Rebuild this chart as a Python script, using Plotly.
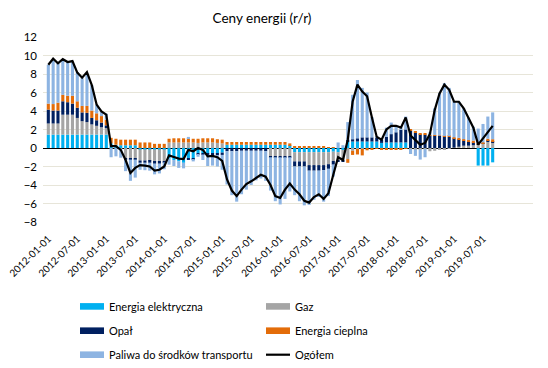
import plotly.graph_objects as go

# ---------------- data ----------------
months = [f"{y}-{m:02d}-01" for y in range(2012, 2020) for m in range(1, 13)][:93]

energia_elektryczna = [1.45, 1.45, 1.45, 1.45, 1.45, 1.45, 1.45, 1.45, 1.45, 1.45, 1.45, 1.45, 1.45,
    0.5, 0.35, 0.3, 0.3, 0.3, 0.3, -0.15, -0.15, -0.15, -0.15, -0.15, -0.15,
    -1.15, -1.3, -1.45, -1.6, -1.15, -1.15, -0.55, -0.55, -0.6, -0.6, -0.6, -0.5,
    0.35, 0.35, 0.35, 0.35, 0.35, 0.35, 0.35, 0.35, 0.35, 0.35, 0.35, 0.35, 0.35, 0.3,
    -0.45, -0.45, -0.45, -0.45, -0.45, -0.45, -0.45, -0.45, -0.4, -0.45, -0.2,
    0.65, 0.7, 0.7, 0.7, 0.7, 0.7, 0.7, 0.55, 0.6, 0.6, 0.6, 0.6, 0.6,
    0.0, 0.0, 0.0, 0.0, 0.0, 0.0, 0.0, 0.0, 0.0, 0.0, 0.0, 0.0, 0.0, 0.0,
    -1.9, -1.9, -1.9, -1.55]
gaz = [1.2, 1.2, 1.2, 2.15, 2.15, 2.15, 1.8, 1.45, 1.35, 1.1, 0.95, 0.8, 0.7,
    0.0, 0.0, -0.1, -1.15, -1.15, -1.15, -1.2, -1.2, -1.25, -1.35, -1.35, -1.3,
    0.6, 0.6, 0.6, 0.6, 0.6, 0.6, 0.55, 0.6, 0.6, 0.6, 0.55, 0.5,
    0.0, 0.0, 0.0, 0.0, 0.0, 0.0, 0.0, 0.0, 0.0, -0.9, -0.9, -0.9, -0.9, -0.9,
    -1.0, -1.0, -1.0, -1.4, -1.4, -1.4, -1.4, -1.3, -1.0, -0.85, -1.15,
    -1.2, -0.3, -0.1, -0.1, 0.0, 0.0, 0.0, -0.1, -0.1, -0.1, -0.1, -0.05, -0.05,
    -0.1, -0.15, -0.15, -0.1, -0.35, -0.3, -0.2, -0.15, -0.1, 0.05, 0.15, 0.25, 0.25, 0.3,
    0.35, 0.45, 0.65, 0.55]
opal = [1.5, 1.4, 1.4, 1.45, 1.35, 1.2, 1.1, 0.95, 1.0, 0.7, 0.6, 0.5, 0.3,
    0.0, 0.0, 0.0, -0.1, -0.1, -0.1, -0.25, -0.25, -0.2, -0.2, -0.2, -0.1,
    0.0, 0.0, 0.0, 0.0, -0.1, -0.1, -0.1, -0.15, -0.15, -0.2, -0.2, -0.25,
    -0.35, -0.35, -0.35, -0.3, -0.3, -0.3, -0.3, -0.3, -0.35, -0.1, -0.1, -0.1, -0.1, -0.1,
    -0.55, -0.55, -0.55, -0.6, -0.6, -0.6, -0.55, -0.5, -0.4, -0.2, -0.1,
    0.25, 0.25, 0.35, 0.45, 0.45, 0.45, 0.45, 0.35, 0.6, 0.9, 1.1, 1.35, 1.4,
    1.9, 1.65, 1.5, 1.45, 1.35, 1.35, 1.3, 1.25, 1.2, 1.0, 0.8, 0.55, 0.4, 0.3,
    0.05, 0.05, 0.15, 0.1]
energia_cieplna = [0.65, 0.7, 0.85, 0.7, 0.7, 0.85, 0.7, 0.7, 0.75, 0.8, 0.75, 0.7, 0.6,
    0.6, 0.65, 0.6, 0.6, 0.6, 0.6, 0.6, 0.6, 0.6, 0.45, 0.45, 0.45,
    0.4, 0.45, 0.45, 0.45, 0.45, 0.4, 0.45, 0.45, 0.45, 0.45, 0.4, 0.4,
    0.3, 0.3, 0.3, 0.3, 0.3, 0.3, 0.3, 0.3, 0.3, 0.3, 0.3, 0.3, 0.3, 0.2,
    0.15, 0.15, 0.15, 0.15, 0.15, 0.15, 0.15, 0.1, 0.1, 0.0, 0.0,
    -0.4, -0.45, -0.6, -0.7, -0.25, -0.15, -0.1, -0.1, -0.1, -0.1, -0.1, -0.1, -0.05,
    0.1, 0.1, 0.1, 0.1, 0.05, 0.05, 0.05, 0.05, 0.1, 0.1, 0.15, 0.15, 0.2, 0.2,
    0.1, 0.1, 0.2, 0.3]
paliwa = [4.2, 4.75, 4.3, 3.7, 3.7, 3.7, 3.15, 3.0, 3.5, 2.75, 0.95, 0.5, 0.65,
    -1.0, -0.9, -0.95, -1.25, -2.3, -1.95, -0.75, -0.8, -0.85, -1.15, -1.05, -0.75,
    -0.65, -0.65, -0.7, -0.6, 0.15, -0.2, -0.3, -0.6, -1.2, -1.1, -1.2, -1.6,
    -3.6, -4.75, -5.45, -4.7, -4.2, -3.7, -3.2, -3.0, -3.2, -3.6, -4.75, -5.1, -4.5, -3.7,
    -3.1, -3.75, -4.2, -3.7, -3.15, -2.85, -3.4, -2.95, -1.3, 0.6, 0.3,
    1.9, 4.8, 6.3, 5.35, 4.85, 2.2, 0.1, 0.1, 1.0, 1.25, 0.7, 0.4, 1.4,
    -0.55, -0.7, -1.1, -0.9, 0.3, 2.9, 4.6, 5.7, 5.2, 3.9, 3.9, 3.35, 2.45, 1.5,
    1.6, 2.0, 2.4, 2.9]
ogolem = [9.0, 9.65, 9.15, 9.6, 9.3, 9.4, 8.15, 7.6, 8.2, 6.8, 4.7, 3.95, 3.6,
    0.2, 0.2, -0.2, -1.3, -2.7, -2.15, -1.85, -1.9, -2.0, -2.45, -2.35, -2.0,
    -0.8, -0.97, -1.15, -1.2, -0.2, -0.35, 0.0, -0.2, -0.9, -0.85, -1.0, -1.4,
    -3.4, -4.6, -5.2, -4.5, -3.9, -3.6, -3.25, -2.9, -3.1, -4.0, -5.2, -5.4, -4.5, -3.85,
    -4.5, -5.0, -5.7, -5.9, -5.3, -5.0, -5.5, -4.9, -2.9, -1.0, -1.3,
    0.9, 5.0, 6.85, 6.1, 5.6, 3.3, 1.2, 0.9, 2.0, 2.4, 2.4, 2.2, 3.3,
    1.35, 0.9, 0.36, 0.55, 1.5, 4.1, 5.9, 6.85, 6.3, 5.0, 5.0, 4.3, 3.3, 2.2,
    0.36, 1.0, 1.7, 2.4]

tick_labels = ["2012-01-01", "2012-07-01", "2013-01-01", "2013-07-01", "2014-01-01",
               "2014-07-01", "2015-01-01", "2015-07-01", "2016-01-01", "2016-07-01",
               "2017-01-01", "2017-07-01", "2018-01-01", "2018-07-01", "2019-01-01",
               "2019-07-01"]

series = [
    ("Energia elektryczna", energia_elektryczna, "#00B0F0"),
    ("Gaz", gaz, "#A5A5A5"),
    ("Opał", opal, "#002060"),
    ("Energia cieplna", energia_cieplna, "#E36C09"),
    ("Paliwa do środków transportu", paliwa, "#8DB4E2"),
]

FONT = "Lato, 'Open Sans', sans-serif"

fig = go.Figure()
for name, vals, col in series:
    fig.add_trace(go.Bar(x=months, y=vals, name=name, marker=dict(color=col, line=dict(width=0)),
                         showlegend=False))
fig.add_trace(go.Scatter(x=months, y=ogolem, name="Ogółem", mode="lines",
                         line=dict(color="black", width=2.2), showlegend=False))

# ---------------- layout ----------------
# the page body adds an 8px margin, so the figure is laid out in page coordinates minus 8
OFF = 8
W, H = 548 - 2 * OFF, 368 - 2 * OFF
L, R, T, B = 43 - OFF, 533 - OFF, 37.3 - OFF, 222.3 - OFF
pw, ph = R - L, B - T

def px_x(x):
    return (x - OFF - L) / pw

def px_y(y):
    return (B - (y - OFF)) / ph

fig.update_layout(
    width=W, height=H,
    margin=dict(l=L, r=W - R, t=T, b=H - B, autoexpand=False),
    paper_bgcolor="white", plot_bgcolor="white",
    barmode="relative", bargap=0.36,
    font=dict(family=FONT, size=11, color="#000000"),
    title=dict(text="Ceny energii (r/r)", x=(262 - OFF) / W, xanchor="center",
               y=1 - 10 / H, yanchor="middle", pad=dict(t=0, b=0),
               font=dict(family=FONT, size=13.5, color="#000000")),
    xaxis=dict(type="category", range=[-1.1, 100.35], tickmode="array",
               tickvals=tick_labels, ticktext=tick_labels, tickangle=-45,
               showgrid=False, zeroline=False, showline=False, ticks="",
               ticklabelstandoff=8, automargin=False,
               tickfont=dict(family=FONT, size=10, color="#000000")),
    yaxis=dict(range=[-8, 12], dtick=2, tick0=0, showgrid=True, gridcolor="#E7E5D9",
               gridwidth=1, zeroline=True, zerolinecolor="black", zerolinewidth=1.3,
               showline=False, ticks="", ticklabelstandoff=5, automargin=False,
               tickfont=dict(family=FONT, size=11.5, color="#000000")),
)

# ---------------- custom legend ----------------
legend_items = [
    ("Energia elektryczna", "#00B0F0", "bar", 80, 306.7),
    ("Gaz", "#A5A5A5", "bar", 266, 306.7),
    ("Opał", "#002060", "bar", 80, 331),
    ("Energia cieplna", "#E36C09", "bar", 266, 331),
    ("Paliwa do środków transportu", "#8DB4E2", "bar", 80, 355),
    ("Ogółem", "black", "line", 266, 355),
]
for text, col, kind, x0, yc in legend_items:
    if kind == "bar":
        fig.add_shape(type="rect", xref="paper", yref="paper",
                      x0=px_x(x0), x1=px_x(x0 + 24), y0=px_y(yc + 3.3), y1=px_y(yc - 3.3),
                      fillcolor=col, line=dict(width=0))
    else:
        fig.add_shape(type="line", xref="paper", yref="paper",
                      x0=px_x(x0), x1=px_x(x0 + 24), y0=px_y(yc), y1=px_y(yc),
                      line=dict(color=col, width=2.2))
    fig.add_annotation(text=text, xref="paper", yref="paper", x=px_x(x0 + 26.5), y=px_y(yc),
                       xanchor="left", yanchor="middle", showarrow=False,
                       font=dict(family=FONT, size=11, color="#000000"))

fig.write_html("out.html")
